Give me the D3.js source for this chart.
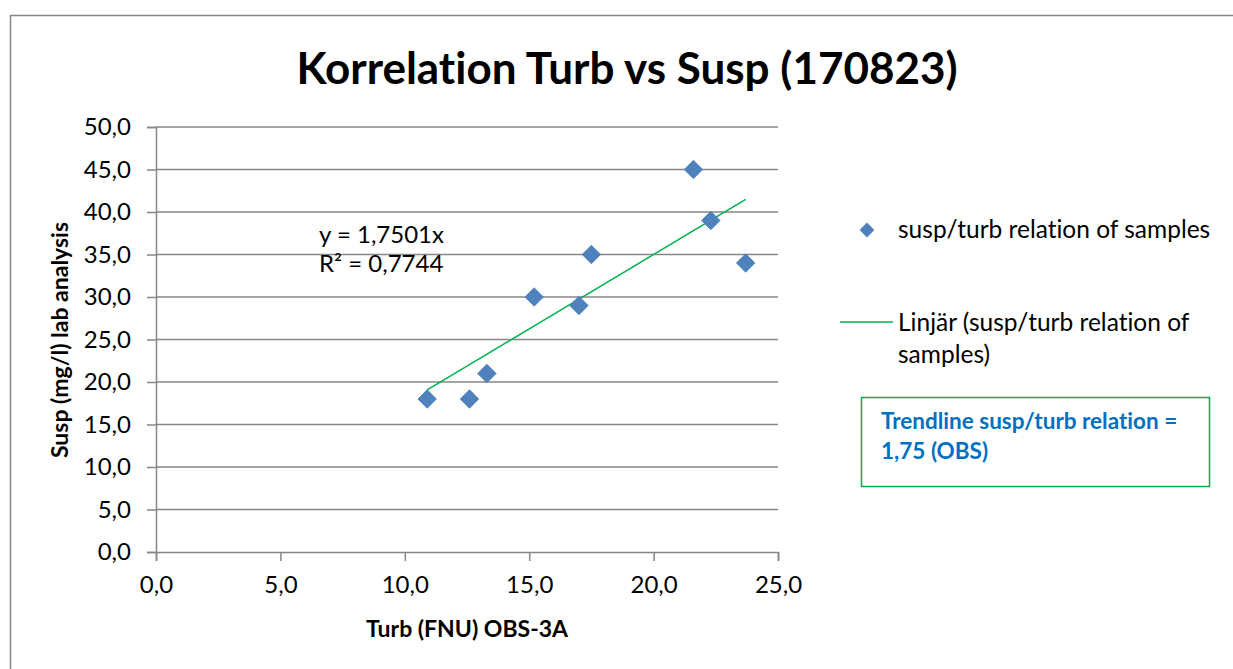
<!DOCTYPE html>
<html>
<head>
<meta charset="utf-8">
<script src="https://cdn.jsdelivr.net/npm/d3@7"></script>
<style>
  body { margin: 0; background: #fff; }
  text { font-family: Lato, "Open Sans", sans-serif; fill: #000; font-variant-ligatures: none; }
</style>
</head>
<body>
<script>
// samples
var turb = [10.9, 12.6, 13.3, 15.2, 17.0, 17.5, 21.6, 22.3, 23.7];
var susp = [18, 18, 21, 30, 29, 35, 45, 39, 34];
var xTicks = [0, 5, 10, 15, 20, 25];
var yTicks = [0, 5, 10, 15, 20, 25, 30, 35, 40, 45, 50];
var slope = 1.7501;
var rSquared = 0.7744;

var width = 1233, height = 669;
var fmt = function(v) { return d3.format(".1f")(v).replace(".", ","); };

var svg = d3.select("body").append("svg")
  .attr("width", width)
  .attr("height", height);

// chart frame (runs off the right/bottom edge in the screenshot)
svg.append("rect")
  .attr("x", 10.5).attr("y", 15.5)
  .attr("width", 1300).attr("height", 700)
  .style("fill", "none")
  .style("stroke", "#868686")
  .style("stroke-width", 1.5);

var x = d3.scaleLinear().domain([0, 25]).range([156, 778]);
var y = d3.scaleLinear().domain([0, 50]).range([552, 127]);

// gridlines
svg.append("g").selectAll("line")
  .data(yTicks.slice(1))
  .enter()
  .append("line")
  .attr("x1", x(0)).attr("x2", x(25))
  .attr("y1", function(d) { return y(d); })
  .attr("y2", function(d) { return y(d); })
  .style("stroke", "#868686")
  .style("stroke-width", 1.5);

var yAxis = svg.append("g")
  .attr("transform", "translate(" + x(0) + ",0)")
  .call(d3.axisLeft(y).tickValues(yTicks).tickFormat(fmt).tickSize(9).tickPadding(16));
var xAxis = svg.append("g")
  .attr("transform", "translate(0," + y(0) + ")")
  .call(d3.axisBottom(x).tickValues(xTicks).tickFormat(fmt).tickSize(9).tickPadding(15));

[xAxis, yAxis].forEach(function(g) {
  g.selectAll("path, line").style("stroke", "#868686").style("stroke-width", 1.5);
  g.selectAll("text")
    .style("font-family", "Lato, sans-serif")
    .style("font-size", "24px")
    .style("fill", "#000");
});

// trendline through origin, drawn over the range of samples
var xMin = d3.min(turb), xMax = d3.max(turb);
svg.append("line")
  .attr("x1", x(xMin)).attr("y1", y(slope * xMin))
  .attr("x2", x(xMax)).attr("y2", y(slope * xMax))
  .style("stroke", "#00b050")
  .style("stroke-width", 1.5);

var diamond = d3.symbol().type(d3.symbolSquare).size(170);

svg.append("g").selectAll("path")
  .data(turb)
  .enter()
  .append("path")
  .attr("d", diamond)
  .attr("transform", function(d, i) {
    return "translate(" + x(d) + "," + y(susp[i]) + ") rotate(45)";
  })
  .style("fill", "#4f81bd")
  .style("stroke", "#4a7ebb")
  .style("stroke-width", 0.8);

// titles
svg.append("text")
  .attr("x", 627).attr("y", 84)
  .attr("text-anchor", "middle")
  .style("font-size", "44px")
  .style("font-weight", "bold")
  .text("Korrelation Turb vs Susp (170823)");

svg.append("text")
  .attr("x", 467).attr("y", 637)
  .attr("text-anchor", "middle")
  .style("font-size", "23px")
  .style("font-weight", "bold")
  .text("Turb (FNU) OBS-3A");

svg.append("text")
  .attr("transform", "translate(68,340) rotate(-90)")
  .attr("text-anchor", "middle")
  .style("font-size", "23px")
  .style("font-weight", "bold")
  .text("Susp (mg/l) lab analysis");

// trendline equation
svg.append("text")
  .attr("x", 319).attr("y", 243)
  .style("font-size", "24px")
  .text("y = " + String(slope).replace(".", ",") + "x");
svg.append("text")
  .attr("x", 319).attr("y", 272)
  .style("font-size", "24px")
  .text("R² = " + String(rSquared).replace(".", ","));

// legend
svg.append("path")
  .attr("d", diamond)
  .attr("transform", "translate(867,230) rotate(45) scale(0.8)")
  .style("fill", "#4f81bd");
svg.append("text")
  .attr("x", 898).attr("y", 238)
  .style("font-size", "24.5px")
  .text("susp/turb relation of samples");

svg.append("line")
  .attr("x1", 840).attr("x2", 893)
  .attr("y1", 322).attr("y2", 322)
  .style("stroke", "#00b050")
  .style("stroke-width", 1.5);
svg.append("text")
  .attr("x", 898).attr("y", 331)
  .style("font-size", "24.5px")
  .text("Linjär (susp/turb relation of");
svg.append("text")
  .attr("x", 898).attr("y", 363)
  .style("font-size", "24.5px")
  .text("samples)");

// note box
svg.append("rect")
  .attr("x", 861.5).attr("y", 397.5)
  .attr("width", 348).attr("height", 89)
  .style("fill", "#fff")
  .style("stroke", "#00b050")
  .style("stroke-width", 1.5);
svg.append("text")
  .attr("x", 881).attr("y", 429)
  .style("font-size", "22.5px")
  .style("font-weight", "bold")
  .style("fill", "#0070c0")
  .text("Trendline susp/turb relation =");
svg.append("text")
  .attr("x", 881).attr("y", 459)
  .style("font-size", "22.5px")
  .style("font-weight", "bold")
  .style("fill", "#0070c0")
  .text("1,75 (OBS)");
</script>
</body>
</html>
